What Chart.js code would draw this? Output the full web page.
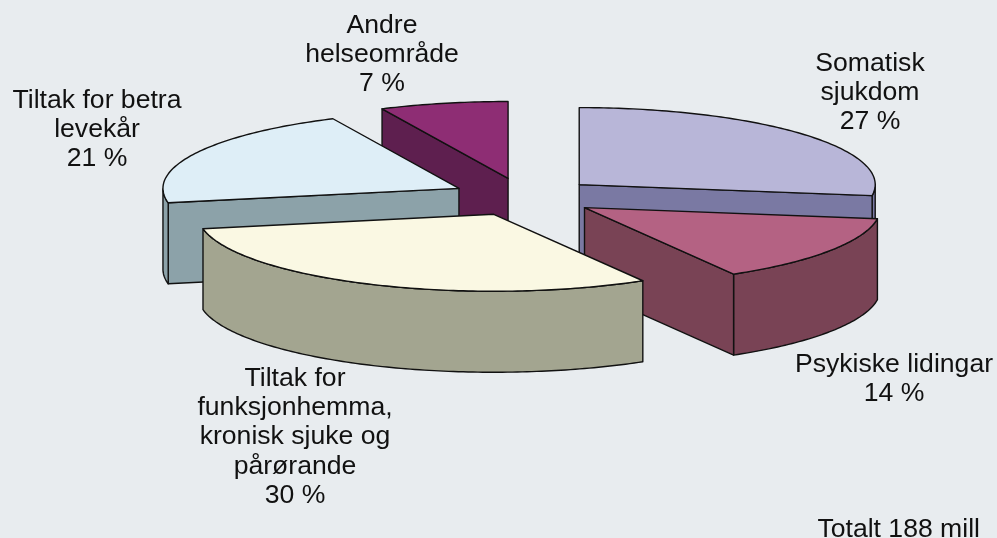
<!DOCTYPE html>
<html><head><meta charset="utf-8">
<style>html,body{margin:0;padding:0;background:#e8ecef}canvas{display:block}</style>
<script src="https://cdn.jsdelivr.net/npm/chart.js@4"></script></head>
<body><canvas id="c" width="997" height="538"></canvas>
<script>
const categories = ['Somatisk sjukdom','Psykiske lidingar','Tiltak for funksjonhemma, kronisk sjuke og pårørande','Tiltak for betra levekår','Andre helseområde'];
const shares = [27.3, 14.3, 30.4, 21, 7];
const topColours = ['#b8b6d8','#b46283','#faf8e3','#deeef7','#8e2d74'];
const sideColours = ['#7a79a3','#794355','#a3a590','#8ca2a9','#5e1f4f'];
const paintOrder = [0,4,3,1,2];
const labelLines = [['Somatisk','sjukdom','27 %'],['Psykiske lidingar','14 %'],['Tiltak for','funksjonhemma,','kronisk sjuke og','pårørande','30 %'],['Tiltak for betra','levekår','21 %'],['Andre','helseområde','7 %']];
const labelCentres = [[870,71],[894,372],[295,386],[97,108],[382,33]];
const totalText = 'Totalt 188 mill';
const SQUASH = 0.26, DEPTH = 81, LINE = 29.2, EXPLODE = 73;

const pie3d = {
  id:'pie3d',
  beforeDatasetDraw(chart,args){
    const ctx = chart.ctx, meta = chart.getDatasetMeta(args.index);
    paintOrder.forEach(i=>{
      const arc = meta.data[i];
      const {x,y,startAngle:s,endAngle:e,outerRadius:R} = arc.getProps(['x','y','startAngle','endAngle','outerRadius'],true);
      const mid=(s+e)/2, ox=Math.cos(mid)*EXPLODE, oy=Math.sin(mid)*EXPLODE;
      const P=(a,r)=>[x+ox+r*Math.cos(a), y+(oy+r*Math.sin(a))*SQUASH];
      const poly=[P(s,0)];
      const N=Math.max(8,Math.ceil((e-s)*60));
      for(let k=0;k<=N;k++) poly.push(P(s+(e-s)*k/N,R));
      ctx.save();
      ctx.lineWidth=1.4; ctx.strokeStyle='#111'; ctx.lineJoin='round';
      // side walls : every outline run heading leftwards on screen faces the viewer
      const face=(run)=>{
        ctx.beginPath();
        run.forEach((p,j)=>j?ctx.lineTo(p[0],p[1]):ctx.moveTo(p[0],p[1]));
        for(let j=run.length-1;j>=0;j--) ctx.lineTo(run[j][0],run[j][1]+DEPTH);
        ctx.closePath(); ctx.fillStyle=sideColours[i]; ctx.fill(); ctx.stroke();
      };
      const closed=poly.concat([poly[0]]);
      let run=[];
      for(let k=0;k<closed.length-1;k++){
        const a=closed[k],b=closed[k+1];
        const radial = k===0||k===closed.length-2;
        if(b[0]<a[0]-1e-6){
          if(radial){ face([a,b]); }
          else { if(!run.length) run.push(a); run.push(b); }
        }
        if((b[0]>=a[0]-1e-6||k===closed.length-3)&&run.length){ face(run); run=[]; }
      }
      // top face through the library's own arc element
      ctx.save();
      ctx.transform(1,0,0,SQUASH,ox,oy*SQUASH+y*(1-SQUASH));
      arc.draw(ctx);
      ctx.restore();
      ctx.beginPath();
      poly.forEach((p,j)=>j?ctx.lineTo(p[0],p[1]):ctx.moveTo(p[0],p[1]));
      ctx.closePath(); ctx.stroke();
      ctx.restore();
    });
    return false;
  },
  afterDraw(chart){
    const ctx=chart.ctx;
    ctx.save();
    ctx.fillStyle='#111'; ctx.font='26.6px "Liberation Sans"'; ctx.textAlign='center'; ctx.textBaseline='alphabetic';
    labelLines.forEach((lines,i)=>lines.forEach((t,k)=>ctx.fillText(t,labelCentres[i][0],labelCentres[i][1]+k*LINE)));
    ctx.textAlign='right';
    ctx.fillText(totalText,980,537);
    ctx.restore();
  }
};

new Chart(document.getElementById('c'),{
  type:'pie',
  data:{labels:categories,datasets:[{data:shares,backgroundColor:topColours,borderWidth:0,hoverOffset:0,radius:296,clip:false}]},
  options:{responsive:false,animation:false,events:[],
    layout:{padding:{left:51,bottom:144}},
    plugins:{legend:{display:false},tooltip:{enabled:false}}},
  plugins:[pie3d]
});
</script></body></html>
